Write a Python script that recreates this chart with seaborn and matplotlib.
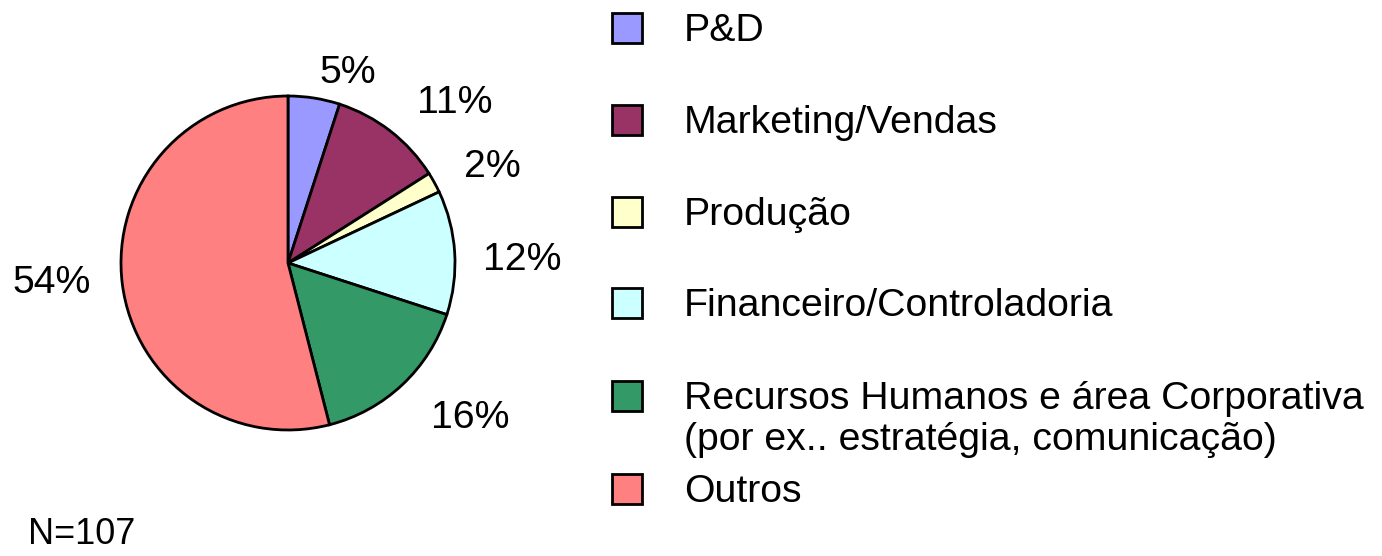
import matplotlib
matplotlib.use("Agg")
import matplotlib.pyplot as plt
import seaborn as sns
from matplotlib.patches import Rectangle

# data
categories = ["P&D", "Marketing/Vendas", "Produção", "Financeiro/Controladoria",
              "Recursos Humanos e área Corporativa\n(por ex.. estratégia, comunicação)",
              "Outros"]
shares = [5, 11, 2, 12, 16, 54]
pct_labels = ["5%", "11%", "2%", "12%", "16%", "54%"]
colors = ["#9999FF", "#993366", "#FFFFCC", "#CCFFFF", "#339966", "#FF8080"]
sample_note = "N=107"

sns.set_theme(style="white")
plt.rcParams["font.family"] = ["Liberation Sans", "DejaVu Sans"]

W, H = 1382, 556
FS = 28.3
fig = plt.figure(figsize=(W / 100, H / 100), dpi=100)

# pie centre (288, 263) px, radius 167 px
R = 167
lim = 1.6
side = 2 * lim * R
cx, cy = 288, 263
ax = fig.add_axes([(cx - side / 2) / W, (H - cy - side / 2) / H, side / W, side / H])
wedges, _ = ax.pie(shares, colors=colors, startangle=90, counterclock=False,
                   wedgeprops=dict(edgecolor="black", linewidth=2.0))
ax.set_xlim(-lim, lim)
ax.set_ylim(-lim, lim)
ax.set_aspect("equal")
ax.axis("off")

# percentage labels, offsets from centre in px (Excel-style placement)
label_offsets = [(60, 190), (167, 160), (204, 96), (234, 3), (182, -155), (-236, -20)]
for txt, (dx, dy) in zip(pct_labels, label_offsets):
    ax.text(dx / R, dy / R, txt, ha="center", va="center", fontsize=FS, color="black")

# legend drawn by hand to mimic the original layout
row_y = [28, 120, 212, 303, 396, 489]
for lab, col, y in zip(categories, colors, row_y):
    fig.patches.append(Rectangle((612 / W, 1 - (y + 15) / H), 30 / W, 30 / H,
                                 transform=fig.transFigure, facecolor=col,
                                 edgecolor="black", linewidth=2.0))
    for i, line in enumerate(lab.split("\n")):
        fig.text(684 / W, 1 - (y + 13 + 41 * i) / H, line, ha="left", va="baseline",
                 fontsize=FS, color="black")

fig.text(28 / W, 1 - 544 / H, sample_note, ha="left", va="baseline", fontsize=26,
         color="black")

fig.savefig("out.png", dpi=100)
